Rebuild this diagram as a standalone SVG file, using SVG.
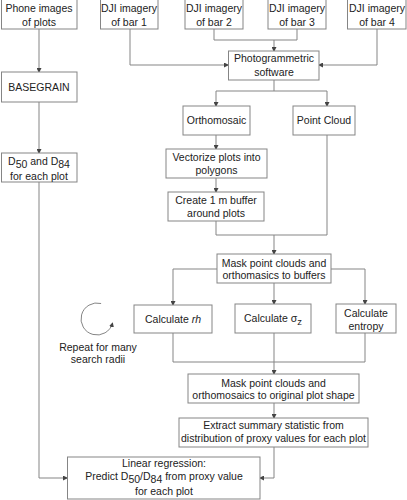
<svg xmlns="http://www.w3.org/2000/svg" width="407" height="500" viewBox="0 0 407 500">
<style>
.box{fill:#fff;stroke:#858585;stroke-width:1}
.t{font-family:"Liberation Sans",Arial,sans-serif;font-size:10.5px;fill:#222;text-anchor:middle}
.c{fill:none;stroke:#858585;stroke-width:1}
</style>
<defs>
<marker id="ah" markerWidth="5" markerHeight="5" refX="4" refY="2.5" orient="auto" markerUnits="userSpaceOnUse">
<path d="M0,0 L5,2.5 L0,5 Z" fill="#444"/>
</marker>
</defs>
<rect width="407" height="500" fill="#fff"/>
<g id="connectors">
<path class="c" d="M39,29 V72" marker-end="url(#ah)"/>
<path class="c" d="M39,102 V153" marker-end="url(#ah)"/>
<path class="c" d="M39,182 V478 H67" marker-end="url(#ah)"/>
<path class="c" d="M130,29 V65 H228" marker-end="url(#ah)"/>
<path class="c" d="M214,29 V40 H297 M297,29 V40"/>
<path class="c" d="M274,40 V51" marker-end="url(#ah)"/>
<path class="c" d="M377,29 V65 H319" marker-end="url(#ah)"/>
<path class="c" d="M274,80 V91 M216,91 H327"/>
<path class="c" d="M216,91 V106" marker-end="url(#ah)"/>
<path class="c" d="M327,91 V106" marker-end="url(#ah)"/>
<path class="c" d="M216,135 V149" marker-end="url(#ah)"/>
<path class="c" d="M216,178 V192" marker-end="url(#ah)"/>
<path class="c" d="M216,221 V235 H327 V135"/>
<path class="c" d="M274,235 V254" marker-end="url(#ah)"/>
<path class="c" d="M217,269 H173 V305" marker-end="url(#ah)"/>
<path class="c" d="M274,283 V304" marker-end="url(#ah)"/>
<path class="c" d="M331,269 H365 V304" marker-end="url(#ah)"/>
<path class="c" d="M173,333 V362 H365 V333"/>
<path class="c" d="M274,333 V374" marker-end="url(#ah)"/>
<path class="c" d="M274,403 V418" marker-end="url(#ah)"/>
<path class="c" d="M274,447 V478 H260" marker-end="url(#ah)"/>
</g>
<g id="phone"><rect class="box" x="1.5" y="-1" width="75.5" height="30"/><text class="t" x="39" y="12">Phone images</text><text class="t" x="39" y="26">of plots</text></g>
<g id="bar1"><rect class="box" x="100.5" y="-1" width="57.5" height="30"/><text class="t" x="129" y="12">DJI imagery</text><text class="t" x="129" y="26">of bar 1</text></g>
<g id="bar2"><rect class="box" x="185" y="-1" width="58" height="30"/><text class="t" x="214" y="12">DJI imagery</text><text class="t" x="214" y="26">of bar 2</text></g>
<g id="bar3"><rect class="box" x="268" y="-1" width="58" height="30"/><text class="t" x="297" y="12">DJI imagery</text><text class="t" x="297" y="26">of bar 3</text></g>
<g id="bar4"><rect class="box" x="347.5" y="-1" width="58.5" height="30"/><text class="t" x="377" y="12">DJI imagery</text><text class="t" x="377" y="26">of bar 4</text></g>
<g id="basegrain"><rect class="box" x="1.5" y="72" width="75.5" height="30"/><text class="t" x="39" y="91">BASEGRAIN</text></g>
<g id="d50"><rect class="box" x="1.5" y="153" width="75.5" height="29"/><text class="t" x="39" y="165">D<tspan dy="3">50</tspan><tspan dy="-3"> and D</tspan><tspan dy="3">84</tspan></text><text class="t" x="39" y="180">for each plot</text></g>
<g id="photogrammetric"><rect class="box" x="228.5" y="51" width="90.5" height="29"/><text class="t" x="274" y="62">Photogrammetric</text><text class="t" x="274" y="76">software</text></g>
<g id="ortho"><rect class="box" x="183" y="106" width="67" height="29"/><text class="t" x="216.5" y="124">Orthomosaic</text></g>
<g id="pointcloud"><rect class="box" x="293" y="106" width="62" height="29"/><text class="t" x="324" y="124">Point Cloud</text></g>
<g id="vectorize"><rect class="box" x="166" y="149" width="101" height="29"/><text class="t" x="216.5" y="161">Vectorize plots into</text><text class="t" x="216.5" y="174">polygons</text></g>
<g id="buffer"><rect class="box" x="168" y="192" width="96" height="29"/><text class="t" x="216" y="204">Create 1 m buffer</text><text class="t" x="216" y="217">around plots</text></g>
<g id="mask1"><rect class="box" x="217" y="254" width="114" height="29"/><text class="t" x="274" y="267">Mask point clouds and</text><text class="t" x="274" y="279">orthomasics to buffers</text></g>
<g id="rh"><rect class="box" x="134" y="305" width="78" height="28"/><text class="t" x="173" y="323">Calculate <tspan font-style="italic">rh</tspan></text></g>
<g id="sigma"><rect class="box" x="235" y="304" width="76" height="29"/><text class="t" x="273" y="322">Calculate σ<tspan dy="3" font-size="9.5px">z</tspan></text></g>
<g id="entropy"><rect class="box" x="336" y="304" width="60" height="29"/><text class="t" x="366" y="317">Calculate</text><text class="t" x="366" y="330">entropy</text></g>
<g id="repeat">
<path class="c" d="M101.1,303.5 A16,16 0 1 0 112.5,323.1" marker-end="url(#ah)"/>
<text class="t" x="98" y="351">Repeat for many</text><text class="t" x="98" y="363">search radii</text>
</g>
<g id="mask2"><rect class="box" x="188" y="374" width="171" height="29"/><text class="t" x="273.5" y="387">Mask point clouds and</text><text class="t" x="273.5" y="399">orthomosaics to original plot shape</text></g>
<g id="extract"><rect class="box" x="179" y="418" width="189" height="29"/><text class="t" x="273.5" y="429">Extract summary statistic from</text><text class="t" x="273.5" y="442">distribution of proxy values for each plot</text></g>
<g id="linear"><rect class="box" x="67.5" y="457" width="192.5" height="42"/><text class="t" x="164" y="467">Linear regression:</text><text class="t" x="164" y="480">Predict D<tspan dy="3">50</tspan><tspan dy="-3">/D</tspan><tspan dy="3">84</tspan><tspan dy="-3"> from proxy value</tspan></text><text class="t" x="164" y="495">for each plot</text></g>
</svg>
